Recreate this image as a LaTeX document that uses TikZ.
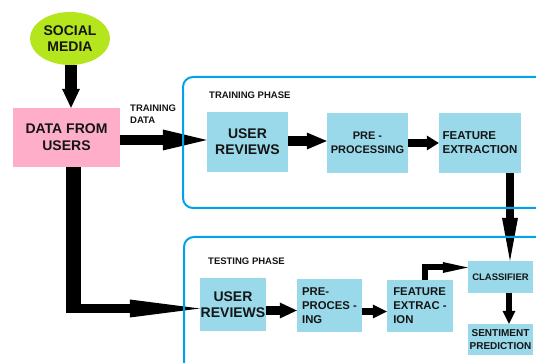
\documentclass[tikz,border=0pt]{standalone}
\usepackage{fontspec}
\setmainfont{Liberation Sans}
\usetikzlibrary{arrows.meta,shapes.geometric,calc}
\definecolor{limegreen}{HTML}{B5E61D}
\definecolor{pinkbox}{HTML}{FFAEC9}
\definecolor{lblue}{HTML}{99D9EA}
\definecolor{phaseblue}{HTML}{00A2E8}
\definecolor{txt}{HTML}{151515}
\begin{document}
\begin{tikzpicture}[x=1pt,y=-1pt,
  every node/.style={inner sep=0pt, text=txt},
  box/.style={fill=lblue, align=center},
  phase/.style={draw=phaseblue, line width=2pt, rounded corners=10pt},
  blk/.style={draw=black, line join=miter},
  lbl/.style={font=\bfseries\fontsize{9.5}{12.5}\selectfont, anchor=west, align=left},
  big/.style={font=\bfseries\fontsize{14}{16}\selectfont},
  mid/.style={font=\bfseries\fontsize{11.3}{14}\selectfont},
  sml/.style={font=\bfseries\fontsize{10}{13}\selectfont},
]
\useasboundingbox (0,0) rectangle (536,363);
\fill[white] (0,0) rectangle (536,363);

% nodes
\node[ellipse, fill=limegreen, minimum width=80pt, minimum height=53pt, big, align=center] (social) at (70,38.5) {SOCIAL\\MEDIA};
\node[fill=pinkbox, minimum width=107pt, minimum height=59pt, font=\bfseries\fontsize{14}{17}\selectfont, align=center] (data) at (66.5,137.5) {DATA FROM\\USERS};

\node[box, big, minimum width=81pt, minimum height=60pt] (ur1) at (247.5,142) {USER\\REVIEWS};
\node[box, font=\bfseries\fontsize{11}{14}\selectfont, minimum width=81pt, minimum height=60pt] (pp1) at (367.5,143) {PRE -\\PROCESSING};
\node[box, font=\bfseries\fontsize{11.5}{14}\selectfont, align=left, minimum width=82pt, minimum height=60pt] (fe1) at (480,143) {FEATURE\\EXTRACTION};

\node[box, big, minimum width=66pt, minimum height=53pt] (ur2) at (233,304.5) {USER\\REVIEWS};
\node[box, mid, align=left, minimum width=65pt, minimum height=53pt] (pp2) at (329.5,305.5) {PRE-\\PROCES -\\ING};
\node[box, mid, align=left, minimum width=66pt, minimum height=52pt] (fe2) at (420,306) {FEATURE\\EXTRAC -\\ION};
\node[box, font=\bfseries\fontsize{9.5}{12}\selectfont, minimum width=65pt, minimum height=32pt] (cls) at (500.5,277) {CLASSIFIER};
\node[box, sml, minimum width=65pt, minimum height=31pt] (sent) at (500.5,339.5) {SENTIMENT\\PREDICTION};

\node[lbl] (trdata) at (130,114) {TRAINING\\DATA};
\node[lbl] (trph) at (209,95) {TRAINING PHASE};
\node[lbl] (teph) at (208,261) {TESTING PHASE};

% block arrows
\draw[blk, line width=12pt, -{Triangle[length=19pt,width=18pt,line width=0pt]}] (social.south -| 71,0) -- (data.north -| 71,0);
\draw[blk, line width=10pt, -{Triangle[length=44pt,width=21pt,line width=0pt]}] (data.east |- 0,140) -- (ur1.west |- 0,140);
\draw[blk, line width=10pt, -{Triangle[length=20pt,width=17pt,line width=0pt]}] (ur1.east |- 0,141) -- (pp1.west |- 0,141);
\draw[blk, line width=8pt, -{Triangle[length=12pt,width=15pt,line width=0pt]}] (pp1.east |- 0,143) -- (fe1.west |- 0,143);
\draw[blk, line width=8pt, -{Triangle[length=43pt,width=16pt,line width=0pt]}] (fe1.south -| 510,0) -- (cls.north -| 510,0);

\coordinate (bend) at (73.5,313);
\draw[blk, line width=15pt] (data.south -| bend) -- (bend);
\draw[blk, line width=9pt, -{Triangle[length=70pt,width=18pt,line width=0pt]}] (66,308.5) -- (ur2.west |- 0,308.5);
\draw[blk, line width=9pt, -{Triangle[length=17pt,width=16pt,line width=0pt]}] (ur2.east |- 0,310.5) -- (pp2.west |- 0,310.5);
\draw[blk, line width=7pt, -{Triangle[length=14pt,width=14pt,line width=0pt]}] (pp2.east |- 0,311.5) -- (fe2.west |- 0,311.5);
\draw[blk, line width=6pt, -{Triangle[length=25pt,width=11pt,line width=0pt]}] (fe2.north -| 425,0) -- (425,267.5) -- (cls.west |- 0,267.5);
\draw[blk, line width=6pt, -{Triangle[length=13pt,width=13pt,line width=0pt]}] (cls.south -| 509,0) -- (sent.north -| 509,0);

% phase frames (clipped at picture edge)
\begin{scope}
\clip (0,0) rectangle (536,363);
\draw[phase] (183,77) rectangle (580,208);
\draw[phase] (184,237) rectangle (580,395);
\end{scope}
\end{tikzpicture}
\end{document}
